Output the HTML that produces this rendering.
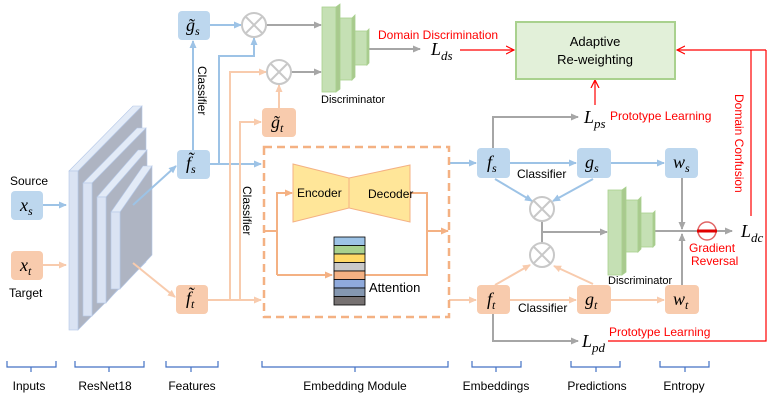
<!DOCTYPE html>
<html><head><meta charset="utf-8"><style>
body{margin:0;background:#fff}
svg text{font-family:"Liberation Sans",sans-serif}
svg .m text{font-family:"Liberation Serif",serif;font-style:italic}
</style></head><body>
<svg width="773" height="401" viewBox="0 0 773 401" xmlns="http://www.w3.org/2000/svg">
<defs>
<marker id="ab" markerWidth="8" markerHeight="8" refX="7" refY="4" orient="auto" markerUnits="userSpaceOnUse"><path d="M0,0.5 L8,4 L0,7.5 z" fill="#9dc3e6"/></marker>
<marker id="ao" markerWidth="8" markerHeight="8" refX="7" refY="4" orient="auto" markerUnits="userSpaceOnUse"><path d="M0,0.5 L8,4 L0,7.5 z" fill="#f8cbad"/></marker>
<marker id="ad" markerWidth="8" markerHeight="8" refX="7" refY="4" orient="auto" markerUnits="userSpaceOnUse"><path d="M0,0.5 L8,4 L0,7.5 z" fill="#f4b183"/></marker>
<marker id="ag" markerWidth="8" markerHeight="8" refX="7" refY="4" orient="auto" markerUnits="userSpaceOnUse"><path d="M0,0.5 L8,4 L0,7.5 z" fill="#a6a6a6"/></marker>
<marker id="ar" markerWidth="9" markerHeight="9" refX="8" refY="4.5" orient="auto" markerUnits="userSpaceOnUse"><path d="M0,0.5 L8,4.5 L0,8.5" fill="none" stroke="#ff0000" stroke-width="1.2"/></marker>
</defs>
<g stroke="#b4c7e7" stroke-width="0.6">
<polygon points="78,171 142,106 142,265 78,330" fill="#aeb4c2"/>
<polygon points="69,171 78,171 142,106 133,106" fill="#e3ebf7"/>
<rect x="69" y="171" width="9" height="159" fill="#dae3f3"/>
<polygon points="92,183 146,128 146,262 92,316" fill="#aeb4c2"/>
<polygon points="83,183 92,183 146,128 137,128" fill="#e3ebf7"/>
<rect x="83" y="183" width="9" height="133" fill="#dae3f3"/>
<polygon points="106,197 147,150 147,256 106,303" fill="#aeb4c2"/>
<polygon points="97,197 106,197 147,150 138,150" fill="#e3ebf7"/>
<rect x="97" y="197" width="9" height="106" fill="#dae3f3"/>
<polygon points="120,212 152,166 152,255 120,289" fill="#aeb4c2"/>
<polygon points="111,212 120,212 152,166 143,166" fill="#e3ebf7"/>
<rect x="111" y="212" width="9" height="77" fill="#dae3f3"/>
</g>
<g fill="none" stroke="#9dc3e6" stroke-width="2">
<line x1="43" y1="205" x2="66" y2="205" marker-end="url(#ab)"/>
<line x1="133" y1="205" x2="176" y2="166" marker-end="url(#ab)"/>
<line x1="193" y1="150" x2="193" y2="41" marker-end="url(#ab)"/>
<line x1="210" y1="25" x2="241" y2="25" marker-end="url(#ab)"/>
<polyline points="210,164 219,164 219,56 254,56 254,38" marker-end="url(#ab)"/>
<line x1="210" y1="164" x2="261" y2="164" marker-end="url(#ab)"/>
<line x1="449" y1="163" x2="476" y2="163" marker-end="url(#ab)"/>
<line x1="510" y1="163" x2="576" y2="163" marker-end="url(#ab)"/>
<line x1="611" y1="163" x2="664" y2="163" marker-end="url(#ab)"/>
<line x1="495" y1="179" x2="532" y2="201" marker-end="url(#ab)"/>
<line x1="593" y1="179" x2="553" y2="201" marker-end="url(#ab)"/>
</g>
<g fill="none" stroke="#f8cbad" stroke-width="2">
<line x1="43" y1="265" x2="66" y2="265" marker-end="url(#ao)"/>
<line x1="133" y1="263" x2="175" y2="297" marker-end="url(#ao)"/>
<line x1="208" y1="300" x2="261" y2="300" marker-end="url(#ao)"/>
<polyline points="230,300 230,72 266,72" marker-end="url(#ao)"/>
<polyline points="240,300 240,122 261,122" marker-end="url(#ao)"/>
<line x1="279" y1="108" x2="279" y2="85" marker-end="url(#ao)"/>
<line x1="449" y1="300" x2="476" y2="300" marker-end="url(#ao)"/>
<line x1="510" y1="300" x2="576" y2="300" marker-end="url(#ao)"/>
<line x1="611" y1="300" x2="664" y2="300" marker-end="url(#ao)"/>
<line x1="495" y1="285" x2="530" y2="265" marker-end="url(#ao)"/>
<line x1="593" y1="284" x2="554" y2="266" marker-end="url(#ao)"/>
</g>
<g fill="none" stroke="#f4b183" stroke-width="2">
<polyline points="263,231 277,231"/>
<polyline points="277,275 277,193 292,193" marker-end="url(#ad)"/>
<polyline points="277,275 332,275" marker-end="url(#ad)"/>
<polyline points="410,193 427,193 427,275 365,275"/>
<line x1="427" y1="231" x2="448" y2="231" marker-end="url(#ad)"/>
</g>
<g fill="none" stroke="#a6a6a6" stroke-width="2">
<line x1="266" y1="25" x2="321" y2="25" marker-end="url(#ag)"/>
<line x1="291" y1="72" x2="321" y2="72" marker-end="url(#ag)"/>
<line x1="368" y1="49" x2="420" y2="49" marker-end="url(#ag)"/>
<polyline points="493,148 493,117 578,117" marker-end="url(#ag)"/>
<polyline points="493,314 493,341 578,341" marker-end="url(#ag)"/>
<line x1="542" y1="221" x2="542" y2="243"/>
<line x1="542" y1="232" x2="607" y2="232" marker-end="url(#ag)"/>
<line x1="654" y1="231" x2="732" y2="231" marker-end="url(#ag)"/>
<line x1="682" y1="178" x2="682" y2="229" marker-end="url(#ag)"/>
<line x1="682" y1="285" x2="682" y2="234" marker-end="url(#ag)"/>
</g>
<g fill="none" stroke="#ff0000" stroke-width="1.2">
<line x1="460" y1="50" x2="514" y2="50" marker-end="url(#ar)"/>
<line x1="595" y1="105" x2="595" y2="80" marker-end="url(#ar)"/>
<line x1="766" y1="50" x2="677" y2="50" marker-end="url(#ar)"/>
<polyline points="751,50 751,216"/>
<polyline points="766,50 766,341 608,341"/>
</g>
<circle cx="707" cy="231" r="9" fill="#fff" stroke="#e06666" stroke-width="1.5"/>
<line x1="697" y1="231" x2="717" y2="231" stroke="#e00000" stroke-width="3"/>
<g fill="#fff" stroke="#c8c8c8" stroke-width="2">
<circle cx="254" cy="25" r="12"/><circle cx="279" cy="72" r="12"/>
<circle cx="542" cy="209" r="12"/><circle cx="542" cy="255" r="12"/>
</g>
<g stroke="#c8c8c8" stroke-width="2">
<path d="M245.5,16.5 l17,17 M262.5,16.5 l-17,17"/>
<path d="M270.5,63.5 l17,17 M287.5,63.5 l-17,17"/>
<path d="M533.5,200.5 l17,17 M550.5,200.5 l-17,17"/>
<path d="M533.5,246.5 l17,17 M550.5,246.5 l-17,17"/>
</g>
<g fill="#c5e0b4" stroke="#a9d18e" stroke-width="0.8">
<rect x="322" y="7" width="14" height="85"/><polygon points="336,7 340,4 340,89 336,92" fill="#a9c98e"/>
<rect x="340" y="18" width="12" height="62"/><polygon points="352,18 355,15 355,77 352,80" fill="#a9c98e"/>
<rect x="355" y="31" width="12" height="34"/><polygon points="367,31 369,29 369,63 367,65" fill="#a9c98e"/>
<rect x="608" y="190" width="14" height="85"/><polygon points="622,190 626,187 626,272 622,275" fill="#a9c98e"/>
<rect x="626" y="200" width="12" height="52"/><polygon points="638,200 641,197 641,249 638,252" fill="#a9c98e"/>
<rect x="641" y="213" width="12" height="34"/><polygon points="653,213 655,211 655,245 653,247" fill="#a9c98e"/>
</g>
<text x="321" y="103" font-size="11">Discriminator</text>
<text x="608" y="284" font-size="11">Discriminator</text>
<rect x="264" y="147" width="185" height="170" fill="none" stroke="#f4b183" stroke-width="2.5" stroke-dasharray="8,5"/>
<polygon points="293,164 349,178 349,208 293,222" fill="#ffe699" stroke="#f4b183" stroke-width="1"/>
<polygon points="349,178 410,165 410,222 349,208" fill="#ffe699" stroke="#f4b183" stroke-width="1"/>
<text x="297" y="197" font-size="12">Encoder</text>
<text x="368" y="198" font-size="12">Decoder</text>
<g stroke="#000" stroke-width="0.8">
<rect x="334" y="237" width="31" height="8.5" fill="#9dc3e6"/>
<rect x="334" y="245.5" width="31" height="8.5" fill="#a9d18e"/>
<rect x="334" y="254" width="31" height="8.5" fill="#ffd966"/>
<rect x="334" y="262.5" width="31" height="8.5" fill="#c9c9c9"/>
<rect x="334" y="271" width="31" height="8.5" fill="#f4b183"/>
<rect x="334" y="279.5" width="31" height="8.5" fill="#8faadc"/>
<rect x="334" y="288" width="31" height="8.5" fill="#8497b0"/>
<rect x="334" y="296.5" width="31" height="8.5" fill="#767171"/>
</g>
<text x="369" y="292" font-size="13">Attention</text>
<g fill="#bdd7ee">
<rect x="11" y="191" width="32" height="29" rx="4"/>
<rect x="178" y="11" width="32" height="29" rx="4"/>
<rect x="177" y="150" width="33" height="29" rx="4"/>
<rect x="477" y="148" width="33" height="30" rx="4"/>
<rect x="577" y="148" width="34" height="30" rx="4"/>
<rect x="665" y="148" width="33" height="30" rx="4"/>
</g>
<g fill="#f8cbad">
<rect x="11" y="251" width="32" height="29" rx="4"/>
<rect x="262" y="108" width="34" height="29" rx="4"/>
<rect x="176" y="285" width="32" height="29" rx="4"/>
<rect x="477" y="285" width="33" height="29" rx="4"/>
<rect x="577" y="285" width="34" height="29" rx="4"/>
<rect x="665" y="285" width="34" height="29" rx="4"/>
</g>
<g class="m" font-size="18">
<text x="20" y="211">x<tspan font-size="12" dy="4">s</tspan></text>
<text x="20" y="271">x<tspan font-size="12" dy="4">t</tspan></text>
<text x="186" y="31">g̃<tspan font-size="12" dy="4">s</tspan></text>
<text x="186" y="169">f̃<tspan font-size="12" dy="4">s</tspan></text>
<text x="271" y="128">g̃<tspan font-size="12" dy="4">t</tspan></text>
<text x="186" y="304">f̃<tspan font-size="12" dy="4">t</tspan></text>
<text x="487" y="168">f<tspan font-size="12" dy="4">s</tspan></text>
<text x="585" y="168">g<tspan font-size="12" dy="4">s</tspan></text>
<text x="673" y="168">w<tspan font-size="12" dy="4">s</tspan></text>
<text x="487" y="305">f<tspan font-size="12" dy="4">t</tspan></text>
<text x="585" y="305">g<tspan font-size="12" dy="4">t</tspan></text>
<text x="673" y="305">w<tspan font-size="12" dy="4">t</tspan></text>
<text x="431" y="55">L<tspan font-size="13" dy="5">ds</tspan></text>
<text x="584" y="123">L<tspan font-size="13" dy="5">ps</tspan></text>
<text x="582" y="347">L<tspan font-size="13" dy="5">pd</tspan></text>
<text x="741" y="237">L<tspan font-size="13" dy="5">dc</tspan></text>
</g>
<text x="10" y="185" font-size="12">Source</text>
<text x="9" y="297" font-size="12">Target</text>
<text font-size="12" transform="translate(198,66) rotate(90)">Classifier</text>
<text font-size="12" transform="translate(243,186) rotate(90)">Classifier</text>
<text x="517" y="178" font-size="12">Classifier</text>
<text x="518" y="312" font-size="12">Classifier</text>
<rect x="516" y="22" width="159" height="57" fill="#e2f0d9" stroke="#a9d18e" stroke-width="2"/>
<text x="595" y="46" font-size="13" text-anchor="middle">Adaptive</text>
<text x="595" y="64" font-size="13" text-anchor="middle">Re-weighting</text>
<g fill="#ff0000" font-size="12">
<text x="378" y="39">Domain Discrimination</text>
<text x="610" y="120">Prototype Learning</text>
<text x="609" y="336">Prototype Learning</text>
<text x="689" y="252">Gradient</text>
<text x="691" y="265">Reversal</text>
<text transform="translate(735,94) rotate(90)">Domain Confusion</text>
</g>
<g fill="none" stroke="#4472c4" stroke-width="1.2">
<path d="M7,361 v6 h49 v-6 M31,367 v5"/>
<path d="M75,361 v6 h69 v-6 M109,367 v5"/>
<path d="M166,361 v6 h52 v-6 M191,367 v5"/>
<path d="M262,361 v6 h186 v-6 M355,367 v5"/>
<path d="M472,361 v6 h49 v-6 M496,367 v5"/>
<path d="M571,361 v6 h49 v-6 M596,367 v5"/>
<path d="M660,361 v6 h49 v-6 M685,367 v5"/>
</g>
<g font-size="12" text-anchor="middle">
<text x="29" y="390">Inputs</text>
<text x="105" y="390">ResNet18</text>
<text x="192" y="390">Features</text>
<text x="355" y="390">Embedding Module</text>
<text x="496" y="390">Embeddings</text>
<text x="597" y="390">Predictions</text>
<text x="684" y="390">Entropy</text>
</g>
</svg>
</body></html>
